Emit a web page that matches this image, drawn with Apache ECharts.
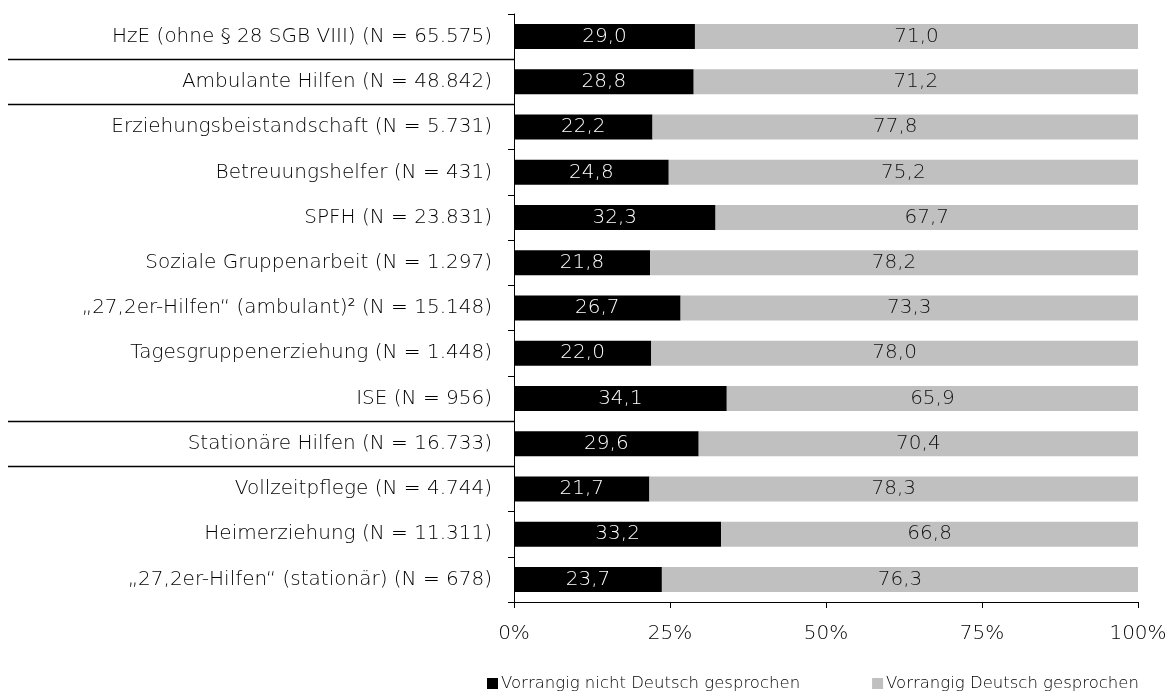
<!DOCTYPE html>
<html><head><meta charset="utf-8">
<script src="https://cdn.jsdelivr.net/npm/echarts@6/dist/echarts.min.js"></script>
<style>html,body{margin:0;padding:0;background:#fff}#c{width:1170px;height:700px}</style>
</head><body><div id="c"></div>
<script>
const categories = [
  'HzE (ohne § 28 SGB VIII) (N = 65.575)',
  'Ambulante Hilfen (N = 48.842)',
  'Erziehungsbeistandschaft (N = 5.731)',
  'Betreuungshelfer (N = 431)',
  'SPFH (N = 23.831)',
  'Soziale Gruppenarbeit (N = 1.297)',
  '„27,2er-Hilfen“ (ambulant)² (N = 15.148)',
  'Tagesgruppenerziehung (N = 1.448)',
  'ISE (N = 956)',
  'Stationäre Hilfen (N = 16.733)',
  'Vollzeitpflege (N = 4.744)',
  'Heimerziehung (N = 11.311)',
  '„27,2er-Hilfen“ (stationär) (N = 678)'
];
const nichtDeutsch = [29.0, 28.8, 22.2, 24.8, 32.3, 21.8, 26.7, 22.0, 34.1, 29.6, 21.7, 33.2, 23.7];
const deutsch = [71.0, 71.2, 77.8, 75.2, 67.7, 78.2, 73.3, 78.0, 65.9, 70.4, 78.3, 66.8, 76.3];
const seriesNames = ['Vorrangig nicht Deutsch gesprochen', 'Vorrangig Deutsch gesprochen'];
const xTicks = [0, 25, 50, 75, 100];
// separators drawn below these category indices
const separatorAfter = [0, 1, 8, 9];

const FONT = 'DejaVu Sans';
const chart = echarts.init(document.getElementById('c'), null, {renderer: 'canvas'});
const fmt = p => p.value.toFixed(1).replace('.', ',');
chart.setOption({
  animation: false,
  textStyle: {fontFamily: FONT},
  grid: {left: 514, right: 32, top: 14, bottom: 98, containLabel: false},
  legend: {
    bottom: 3, left: 482, itemGap: 72, itemWidth: 11, itemHeight: 11, icon: 'rect',
    textStyle: {fontFamily: FONT, fontSize: 16.5, fontWeight: 200, color: '#000', padding: [0, 0, 0, -2]},
    data: seriesNames
  },
  xAxis: {
    type: 'value', min: 0, max: 100, interval: 25,
    axisLine: {show: true, lineStyle: {color: '#000', width: 1}},
    axisTick: {show: true, length: 6, lineStyle: {color: '#000'}},
    splitLine: {show: false},
    axisLabel: {formatter: v => v + '%', fontSize: 20, fontWeight: 200, color: '#000', margin: 22, fontFamily: FONT}
  },
  yAxis: {
    type: 'category', data: categories, inverse: true,
    axisLine: {show: true, lineStyle: {color: '#000', width: 1}},
    axisTick: {show: true, length: 6, lineStyle: {color: '#000'}},
    axisLabel: {fontSize: 20, fontWeight: 200, color: '#000', margin: 22, fontFamily: FONT}
  },
  series: [
    {name: seriesNames[0], type: 'bar', stack: 's', data: nichtDeutsch, barWidth: 25,
     itemStyle: {color: '#000'},
     label: {show: true, position: 'inside', formatter: fmt, color: '#fff', fontSize: 20, fontWeight: 200, fontFamily: FONT}},
    {name: seriesNames[1], type: 'bar', stack: 's', data: deutsch, barWidth: 25,
     itemStyle: {color: '#c0c0c0'},
     label: {show: true, position: 'inside', formatter: fmt, color: '#111', fontSize: 20, fontWeight: 200, fontFamily: FONT}}
  ]
});

function drawSeparators() {
  const p0 = chart.convertToPixel({yAxisIndex: 0}, 0);
  const p1 = chart.convertToPixel({yAxisIndex: 0}, 1);
  const band = p1 - p0;
  const x1 = chart.convertToPixel({xAxisIndex: 0}, 0);
  const els = separatorAfter.map(i => {
    const y = Math.round(chart.convertToPixel({yAxisIndex: 0}, i) + band / 2) + 0.5;
    return {type: 'line', shape: {x1: 8, y1: y, x2: x1, y2: y}, style: {stroke: '#000', lineWidth: 1.5}, silent: true};
  });
  chart.setOption({graphic: els});
}
drawSeparators();
</script>
</body></html>
